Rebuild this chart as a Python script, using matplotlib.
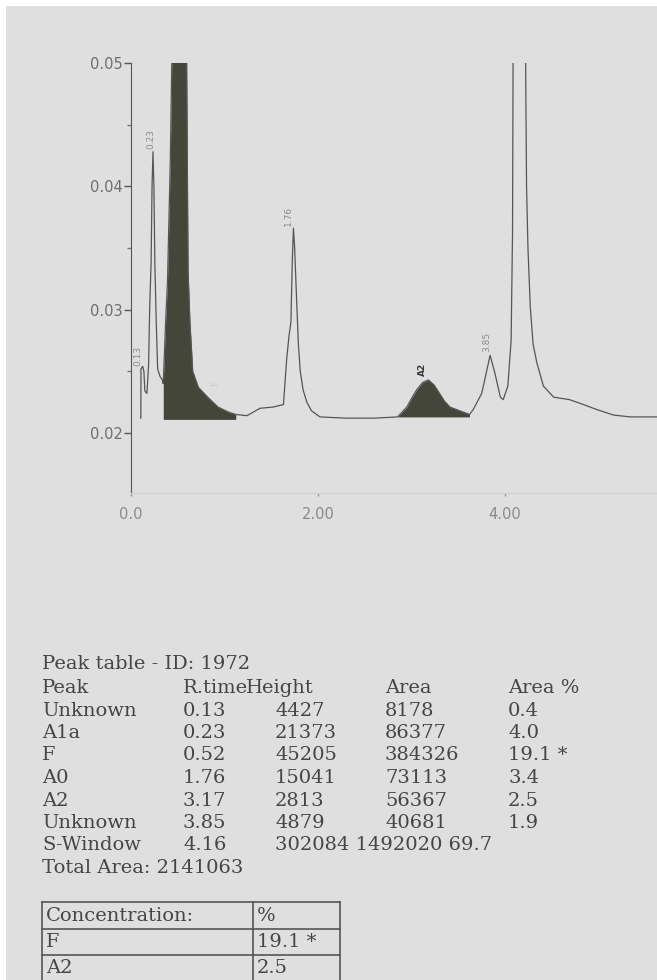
import matplotlib.pyplot as plt
from matplotlib.lines import Line2D
from matplotlib.patches import Rectangle

W, H = 657, 980

# chromatogram trace (time in min, absorbance)
trace_t = [0.105, 0.107, 0.125, 0.138, 0.148, 0.170, 0.188, 0.200, 0.215, 0.225,
           0.235, 0.245, 0.255, 0.270, 0.285, 0.310, 0.335, 0.345, 0.370, 0.390,
           0.420, 0.440, 0.470, 0.520, 0.570, 0.595, 0.610, 0.630, 0.660, 0.720,
           0.820, 0.930, 1.040, 1.120, 1.240, 1.380, 1.520, 1.630, 1.665, 1.690,
           1.710, 1.725, 1.737, 1.750, 1.770, 1.790, 1.810, 1.840, 1.880, 1.930,
           2.020, 2.300, 2.600, 2.850, 2.950, 3.000, 3.055, 3.120, 3.180, 3.240,
           3.300, 3.350, 3.410, 3.550, 3.620, 3.660, 3.750, 3.800, 3.840, 3.890,
           3.950, 3.980, 4.030, 4.065, 4.080, 4.090, 4.160, 4.205, 4.220, 4.230,
           4.245, 4.270, 4.300, 4.340, 4.410, 4.520, 4.690, 4.840, 4.980, 5.160,
           5.340, 5.620]
trace_y = [0.0212, 0.0252, 0.0254, 0.0250, 0.0234, 0.0232, 0.0255, 0.0302, 0.0338, 0.0400,
           0.0428, 0.0400, 0.0338, 0.0290, 0.0252, 0.0246, 0.0243, 0.0240, 0.0290, 0.0322,
           0.0420, 0.0520, 0.0620, 0.0680, 0.0600, 0.0500, 0.0332, 0.0290, 0.0250, 0.0237,
           0.0229, 0.0221, 0.0217, 0.0215, 0.0214, 0.0220, 0.0221, 0.0223, 0.0260, 0.0279,
           0.0290, 0.0340, 0.0366, 0.0350, 0.0310, 0.0272, 0.0250, 0.0235, 0.0225, 0.0218,
           0.0213, 0.0212, 0.0212, 0.0213, 0.0221, 0.0228, 0.0235, 0.0241, 0.0243, 0.0239,
           0.0232, 0.0226, 0.0221, 0.0217, 0.0215, 0.0219, 0.0232, 0.0249, 0.0263, 0.0249,
           0.0229, 0.0227, 0.0238, 0.0275, 0.0362, 0.0600, 0.0950, 0.0550, 0.0500, 0.0400,
           0.0350, 0.0302, 0.0272, 0.0257, 0.0238, 0.0229, 0.0227, 0.0223, 0.0219, 0.02145,
           0.0213, 0.0213]

# shaded (quantified) peaks: start, end, baseline
fill_F = (0.345, 1.12, 0.0211)
fill_A2 = (2.85, 3.62, 0.0213)

# peak labels: text, time, label foot
peak_labels = ["0.13", "0.23", "F", "1.76", "A2", "3.85"]
label_t = [0.07, 0.215, 0.90, 1.68, 3.12, 3.80]
label_y = [0.0254, 0.0430, 0.0238, 0.0368, 0.0246, 0.0266]
label_col = ["#8a8a8a", "#8a8a8a", "#c8c8c8", "#8a8a8a", "#3a3a3a", "#8a8a8a"]

x_ticks = [0, 2, 4]
x_ticklabels = ["0.0", "2.00", "4.00"]
y_ticks = [0.02, 0.03, 0.04, 0.05]
y_ticklabels = ["0.02", "0.03", "0.04", "0.05"]
y_minor = [0.025, 0.035, 0.045]

# peak table
table_title = "Peak table - ID: 1972"
table_header = ["Peak", "R.time", "Height", "Area", "Area %"]
peak_names = ["Unknown", "A1a", "F", "A0", "A2", "Unknown", "S-Window"]
rtimes = ["0.13", "0.23", "0.52", "1.76", "3.17", "3.85", "4.16"]
heights = ["4427", "21373", "45205", "15041", "2813", "4879", "302084"]
areas = ["8178", "86377", "384326", "73113", "56367", "40681", "1492020"]
area_pct = ["0.4", "4.0", "19.1 *", "3.4", "2.5", "1.9", "69.7"]
total_area = "Total Area: 2141063"

conc_rows = [("Concentration:", "%"), ("F", "19.1 *"), ("A2", "2.5")]


def fx(px):
    return px / W


def fy(py):
    return 1 - py / H


fig = plt.figure(figsize=(W / 100, H / 100), dpi=100, facecolor="#dfdfdf")
# thin white margin of the scan
fig.patches.append(Rectangle((0, fy(6)), 1, 1, transform=fig.transFigure,
                             facecolor="white", edgecolor="none", zorder=-5))
fig.patches.append(Rectangle((0, 0), fx(6), 1, transform=fig.transFigure,
                             facecolor="white", edgecolor="none", zorder=-5))

ax = fig.add_axes([fx(131), fy(493), fx(657 - 131), (493 - 63) / H])
ax.set_facecolor("none")
ax.plot(trace_t, trace_y, color="#555555", lw=0.9)

for t0, t1, base in (fill_F, fill_A2):
    mask = [t0 <= t <= t1 for t in trace_t]
    ax.fill_between(trace_t, base, trace_y, where=mask, color="#45463a", lw=0)

for txt, t, y, c in zip(peak_labels, label_t, label_y, label_col):
    ax.text(t, y, txt, rotation=90, ha="center", va="bottom", fontsize=6.5,
            color=c, fontweight="bold" if txt == "A2" else "normal")

ax.set_xlim(0, 5.625)
ax.set_ylim(0.01513, 0.05)
ax.set_xticks(x_ticks)
ax.set_xticklabels(x_ticklabels)
ax.set_yticks(y_ticks)
ax.set_yticklabels(y_ticklabels)
ax.set_yticks(y_minor, minor=True)
ax.tick_params(axis="y", length=5, width=1, color="#555555", labelcolor="#6e6e6e",
               labelsize=10.5, pad=1)
ax.tick_params(axis="y", which="minor", length=3, width=1, color="#777777")
ax.tick_params(axis="x", length=2, width=1, color="#999999", labelcolor="#8a8a8a",
               labelsize=10.5, pad=8)
for side in ("top", "right"):
    ax.spines[side].set_visible(False)
ax.spines["left"].set_color("#555555")
ax.spines["bottom"].set_color("#d2d2d2")

# peak table text
tkw = dict(family="DejaVu Serif", fontsize=14, color="#454545", va="center")
col_x = [42, 183, 275, 385, 508]
head_x = [42, 183, 246, 385, 508]
fig.text(fx(42), fy(664), table_title, **tkw)
for x, h in zip(head_x, table_header):
    fig.text(fx(x), fy(688), h, **tkw)
for i, row in enumerate(zip(peak_names, rtimes, heights, areas, area_pct)):
    y = 710.5 + 22.5 * i
    if row[0] == "S-Window":
        # long numbers run together in the printout
        cells = [row[0], row[1], " ".join(row[2:])]
    else:
        cells = list(row)
    for x, v in zip(col_x, cells):
        fig.text(fx(x), fy(y), v, **tkw)
fig.text(fx(42), fy(868), total_area, **tkw)

# concentration box
box_l, box_m, box_r = 42, 253, 340
row_lines = [902, 929, 955]
for y in row_lines:
    fig.add_artist(Line2D([fx(box_l), fx(box_r)], [fy(y), fy(y)], color="#555555", lw=1.2))
for x in (box_l, box_m, box_r):
    fig.add_artist(Line2D([fx(x), fx(x)], [fy(902), fy(H + 5)], color="#555555", lw=1.2))
for i, (a, b) in enumerate(conc_rows):
    y = 916 + 26 * i
    fig.text(fx(46), fy(y), a, **tkw)
    fig.text(fx(257), fy(y), b, **tkw)

fig.savefig("out.png", dpi=100, facecolor=fig.get_facecolor())
